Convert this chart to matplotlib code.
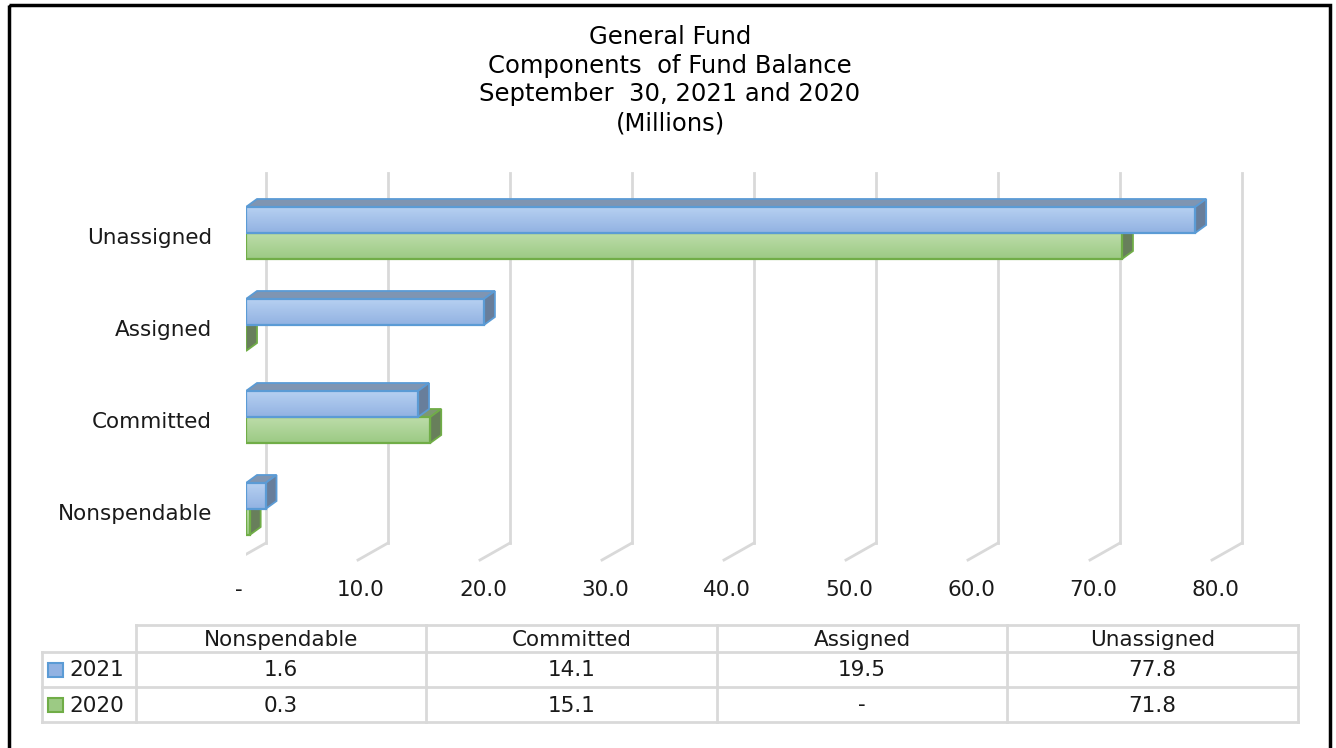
import numpy as np
import matplotlib.pyplot as plt
from matplotlib.patches import Polygon, Rectangle
from matplotlib.colors import to_rgb

# data (millions)
categories = ['Nonspendable', 'Committed', 'Assigned', 'Unassigned']
years = ['2021', '2020']
values_2021 = [1.6, 14.1, 19.5, 77.8]
values_2020 = [0.3, 15.1, 0.0, 71.8]
ticks = [0, 10, 20, 30, 40, 50, 60, 70, 80]
title_lines = ['General Fund', 'Components  of Fund Balance',
               'September  30, 2021 and 2020', '(Millions)']

# colours: front top, front bottom, top face, side face, edge
styles = {
    '2021': ('#b6d0f1', '#92b2e2', '#7f95b2', '#687e9b', '#5b9bd5'),
    '2020': ('#bcdca9', '#9cca84', '#7e9870', '#687f5b', '#70ad47'),
}
txt = '#1a1a1a'
grid_c = '#d9d9d9'
fs = 15.5

W, H = 1336, 748
fig = plt.figure(figsize=(W / 100, H / 100), dpi=100)

# background layer in pixel units (frame, title, table)
bg = fig.add_axes([0, 0, 1, 1])
bg.set_xlim(0, W)
bg.set_ylim(H, 0)
bg.axis('off')
bg.add_patch(Rectangle((9, 5), 1321, 770, fill=False, ec='black', lw=2.5))

for i, line in enumerate(title_lines):
    bg.text(670, [37, 66, 94, 123][i], line, ha='center', va='center',
            fontsize=17.5, family='DejaVu Sans', color='black')

# chart axes: x in millions, y in category index
px_x = 12.2   # pixels per million
px_y = 92     # pixels per category step
x0_px, y0_px = 246, 509
ax_l, ax_r, ax_t, ax_b = 246, 1290, 160, 605
ax = fig.add_axes([ax_l / W, 1 - ax_b / H, (ax_r - ax_l) / W, (ax_b - ax_t) / H])
ax.patch.set_alpha(0)
xlim = (0, (ax_r - ax_l) / px_x)
ylim = ((y0_px - ax_b) / px_y, (y0_px - ax_t) / px_y)

dx, dy = 11 / px_x, 8 / px_y        # bar depth
h = 26 / px_y                        # bar thickness
bx = 20 / px_x                       # back wall offset
g_top, g_bot = (y0_px - 173) / px_y, (y0_px - 543) / px_y
fx, fy = 30 / px_x, 17 / px_y        # floor diagonal

# gridlines on back wall + floor
for t in ticks:
    ax.plot([t + bx, t + bx], [g_bot, g_top], color=grid_c, lw=2, zorder=1)
    ax.plot([t + bx, t + bx - fx], [g_bot, g_bot - fy], color=grid_c, lw=2, zorder=1)
    lab = '-' if t == 0 else f'{t:.1f}'
    ax.text(t - 7 / px_x, (y0_px - 590) / px_y, lab, ha='center', va='center',
            fontsize=fs, family='DejaVu Sans', color=txt)


def draw_bar(v, ylo, year, z):
    c_top, c_bot, c_face, c_side, edge = styles[year]
    ax.add_patch(Polygon([(0, ylo + h), (dx, ylo + h + dy), (v + dx, ylo + h + dy), (v, ylo + h)],
                         closed=True, fc=c_face, ec=edge, lw=1.3, zorder=z))
    ax.add_patch(Polygon([(v, ylo), (v + dx, ylo + dy), (v + dx, ylo + h + dy), (v, ylo + h)],
                         closed=True, fc=c_side, ec=edge, lw=1.3, zorder=z))
    if v > 0:
        a, b = np.array(to_rgb(c_bot)), np.array(to_rgb(c_top))
        s = np.linspace(0, 1, 32)[:, None, None]
        grad = a + (b - a) * s
        ax.imshow(grad, extent=[0, v, ylo, ylo + h], origin='lower', aspect='auto',
                  interpolation='bilinear', zorder=z)
        ax.add_patch(Rectangle((0, ylo), v, h, fill=False, ec=edge, lw=1.6, zorder=z + 0.5))


for i, cat in enumerate(categories):
    draw_bar(values_2020[i], i - h, '2020', 2 + i * 2)
    draw_bar(values_2021[i], i, '2021', 3 + i * 2)
    ax.text((212 - x0_px) / px_x, i - 5 / px_y, cat, ha='right', va='center',
            fontsize=fs, family='DejaVu Sans', color=txt)

ax.set_xlim(*xlim)
ax.set_ylim(*ylim)
ax.axis('off')

# data table
col_x = [136, 426, 717, 1007, 1298]
row_y = [625, 652, 687, 722]
lk = dict(color=grid_c, lw=2, solid_capstyle='projecting')
bg.plot([col_x[0], col_x[-1]], [row_y[0], row_y[0]], **lk)
for y in row_y[1:]:
    bg.plot([42, col_x[-1]], [y, y], **lk)
bg.plot([42, 42], [row_y[1], row_y[-1]], **lk)
for x in col_x:
    bg.plot([x, x], [row_y[0], row_y[-1]], **lk)

fmt = lambda v: '-' if v == 0 else f'{v:.1f}'
for j, cat in enumerate(categories):
    cx = (col_x[j] + col_x[j + 1]) / 2
    bg.text(cx, (row_y[0] + row_y[1]) / 2 + 1, cat, ha='center', va='center',
            fontsize=fs, family='DejaVu Sans', color=txt)
    for r, vals in enumerate([values_2021, values_2020]):
        bg.text(cx, (row_y[r + 1] + row_y[r + 2]) / 2 + 1, fmt(vals[j]), ha='center',
                va='center', fontsize=fs, family='DejaVu Sans', color=txt)

for r, yr in enumerate(years):
    yc = (row_y[r + 1] + row_y[r + 2]) / 2
    st = styles[yr]
    bg.add_patch(Rectangle((48, yc - 7), 15, 14, fc=st[1], ec=st[4], lw=1.5))
    bg.text(69, yc + 1, yr, ha='left', va='center', fontsize=fs,
            family='DejaVu Sans', color=txt)

fig.savefig('out.png', dpi=100)
